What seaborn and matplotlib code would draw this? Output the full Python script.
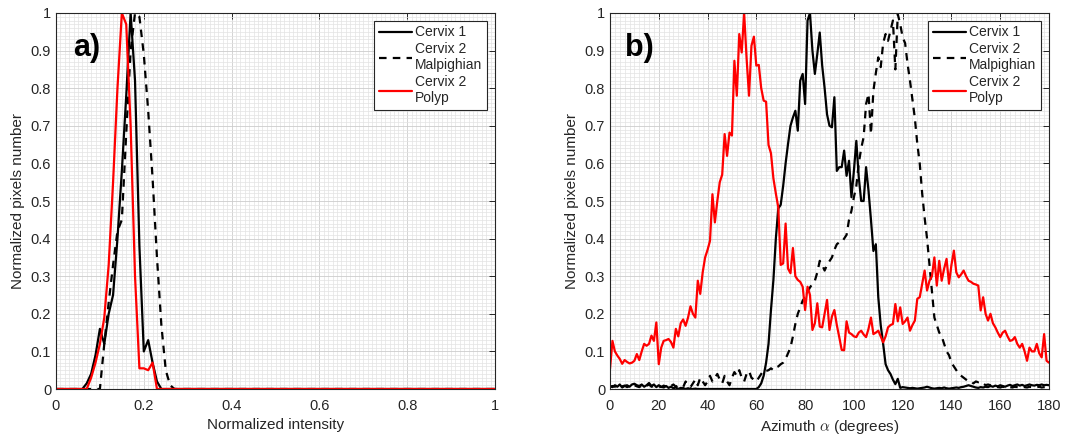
import numpy as np
import pandas as pd
import matplotlib
matplotlib.use("Agg")
import matplotlib.pyplot as plt
import seaborn as sns
from matplotlib.ticker import MultipleLocator, FuncFormatter

# ---------------- data ----------------
intensity = [round(0.01 * i, 2) for i in range(101)]
cervix1_int = [0.0] * 7 + [0.015, 0.04, 0.09, 0.16, 0.12, 0.20, 0.25, 0.40, 0.58, 0.78,
                           1.0, 0.82, 0.38, 0.10, 0.13, 0.07, 0.02] + [0.0] * 77
malpighian_int = [0.0] * 11 + [0.12, 0.23, 0.33, 0.42, 0.45, 0.68, 0.90, 1.0, 0.99, 0.89,
                               0.74, 0.56, 0.35, 0.17, 0.05, 0.01] + [0.0] * 74
polyp_int = [0.0] * 8 + [0.03, 0.07, 0.12, 0.19, 0.33, 0.55, 0.80, 1.0, 0.97, 0.70,
                         0.30, 0.055, 0.055, 0.05, 0.07] + [0.0] * 78

azimuth = list(range(181))
polyp_az = [
    0.053, 0.128, 0.100, 0.089, 0.080, 0.067, 0.077, 0.072, 0.068, 0.070,
    0.075, 0.093, 0.077, 0.100, 0.120, 0.115, 0.120, 0.142, 0.128, 0.177,
    0.066, 0.110, 0.128, 0.130, 0.133, 0.125, 0.110, 0.160, 0.140, 0.175,
    0.185, 0.168, 0.190, 0.220, 0.200, 0.190, 0.288, 0.253, 0.310, 0.350,
    0.370, 0.394, 0.518, 0.443, 0.500, 0.550, 0.570, 0.678, 0.620, 0.682,
    0.674, 0.873, 0.780, 0.944, 0.895, 1.000, 0.880, 0.780, 0.913, 0.937,
    0.860, 0.862, 0.800, 0.767, 0.764, 0.649, 0.627, 0.560, 0.520, 0.483,
    0.330, 0.334, 0.440, 0.320, 0.308, 0.375, 0.300, 0.290, 0.285, 0.272,
    0.210, 0.272, 0.250, 0.157, 0.175, 0.228, 0.166, 0.164, 0.200, 0.237,
    0.157, 0.193, 0.210, 0.170, 0.138, 0.104, 0.103, 0.180, 0.150, 0.146,
    0.140, 0.138, 0.150, 0.155, 0.145, 0.138, 0.160, 0.190, 0.146, 0.150,
    0.155, 0.140, 0.124, 0.140, 0.164, 0.170, 0.173, 0.226, 0.180, 0.217,
    0.173, 0.180, 0.190, 0.155, 0.170, 0.182, 0.240, 0.244, 0.280, 0.315,
    0.262, 0.288, 0.300, 0.350, 0.275, 0.341, 0.288, 0.320, 0.346, 0.280,
    0.330, 0.368, 0.310, 0.297, 0.305, 0.315, 0.300, 0.288, 0.285, 0.280,
    0.278, 0.275, 0.209, 0.244, 0.200, 0.182, 0.200, 0.175, 0.164, 0.150,
    0.138, 0.150, 0.155, 0.140, 0.128, 0.130, 0.138, 0.120, 0.110, 0.120,
    0.100, 0.075, 0.110, 0.100, 0.100, 0.120, 0.095, 0.084, 0.146, 0.075,
    0.070]
cervix1_az = [
    0.008, 0.005, 0.010, 0.006, 0.012, 0.004, 0.008, 0.010, 0.006, 0.012,
    0.014, 0.010, 0.008, 0.012, 0.006, 0.010, 0.016, 0.008, 0.012, 0.005,
    0.010, 0.006, 0.004, 0.008, 0.003, 0.006, 0.002, 0.004, 0.000, 0.003,
    0.002, 0.000, 0.002, 0.000, 0.000, 0.001, 0.000, 0.000, 0.000, 0.000,
    0.000, 0.000, 0.000, 0.000, 0.000, 0.000, 0.000, 0.000, 0.000, 0.000,
    0.000, 0.000, 0.000, 0.000, 0.000, 0.000, 0.000, 0.000, 0.000, 0.000,
    0.000, 0.005, 0.015, 0.035, 0.070, 0.120, 0.210, 0.290, 0.400, 0.480,
    0.490, 0.540, 0.600, 0.652, 0.700, 0.722, 0.740, 0.687, 0.820, 0.838,
    0.758, 0.980, 1.000, 0.900, 0.838, 0.891, 0.948, 0.860, 0.800, 0.730,
    0.700, 0.696, 0.776, 0.580, 0.590, 0.590, 0.634, 0.567, 0.607, 0.510,
    0.580, 0.660, 0.563, 0.500, 0.500, 0.590, 0.527, 0.450, 0.367, 0.385,
    0.244, 0.170, 0.120, 0.066, 0.050, 0.040, 0.025, 0.013, 0.027, 0.003,
    0.005, 0.004, 0.003, 0.002, 0.003, 0.002, 0.001, 0.002, 0.003, 0.004,
    0.006, 0.004, 0.002, 0.001, 0.002, 0.003, 0.002, 0.004, 0.002, 0.001,
    0.002, 0.003, 0.004, 0.003, 0.005, 0.006, 0.008, 0.010, 0.008, 0.006,
    0.004, 0.003, 0.005, 0.004, 0.006, 0.005, 0.008, 0.006, 0.009, 0.007,
    0.010, 0.008, 0.006, 0.009, 0.011, 0.008, 0.010, 0.012, 0.009, 0.011,
    0.008, 0.010, 0.012, 0.010, 0.009, 0.011, 0.010, 0.012, 0.010, 0.011,
    0.010]
malpighian_az = [
    0.005, 0.008, 0.006, 0.010, 0.004, 0.007, 0.009, 0.005, 0.008, 0.006,
    0.010, 0.007, 0.005, 0.009, 0.006, 0.008, 0.012, 0.006, 0.008, 0.010,
    0.007, 0.005, 0.009, 0.006, 0.010, 0.008, 0.012, 0.006, 0.010, 0.008,
    0.005, 0.020, 0.010, 0.005, 0.015, 0.025, 0.010, 0.030, 0.020, 0.010,
    0.020, 0.035, 0.020, 0.030, 0.040, 0.025, 0.015, 0.035, 0.020, 0.010,
    0.030, 0.045, 0.035, 0.050, 0.030, 0.020, 0.040, 0.048, 0.030, 0.025,
    0.020, 0.030, 0.040, 0.050, 0.048, 0.050, 0.055, 0.050, 0.057, 0.060,
    0.066, 0.070, 0.080, 0.095, 0.110, 0.140, 0.173, 0.200, 0.217, 0.235,
    0.244, 0.260, 0.270, 0.280, 0.288, 0.310, 0.341, 0.330, 0.315, 0.330,
    0.340, 0.350, 0.370, 0.385, 0.390, 0.390, 0.400, 0.410, 0.450, 0.474,
    0.510, 0.540, 0.600, 0.640, 0.670, 0.758, 0.785, 0.678, 0.793, 0.840,
    0.882, 0.856, 0.920, 0.944, 0.926, 0.953, 0.980, 0.850, 0.997, 0.970,
    0.935, 0.920, 0.865, 0.820, 0.770, 0.720, 0.652, 0.600, 0.520, 0.456,
    0.400, 0.330, 0.260, 0.190, 0.170, 0.150, 0.140, 0.120, 0.100, 0.090,
    0.070, 0.060, 0.050, 0.040, 0.035, 0.030, 0.025, 0.020, 0.020, 0.015,
    0.020, 0.018, 0.020, 0.015, 0.010, 0.012, 0.010, 0.008, 0.006, 0.005,
    0.004, 0.006, 0.005, 0.003, 0.005, 0.004, 0.006, 0.005, 0.004, 0.006,
    0.005, 0.004, 0.006, 0.005, 0.004, 0.005, 0.006, 0.004, 0.005, 0.006,
    0.005]

series_labels = ["Cervix 1", "Cervix 2\nMalpighian", "Cervix 2\nPolyp"]
xtick_left = [0, 0.2, 0.4, 0.6, 0.8, 1]
xtick_right = [0, 20, 40, 60, 80, 100, 120, 140, 160, 180]
ytick_vals = [0, 0.1, 0.2, 0.3, 0.4, 0.5, 0.6, 0.7, 0.8, 0.9, 1]

# ---------------- style ----------------
sns.set_theme(style="white")
plt.rcParams['font.family'] = ['Liberation Sans', 'DejaVu Sans']
plt.rcParams['mathtext.fontset'] = 'cm'

W, H = 1073, 436
fig = plt.figure(figsize=(W / 100, H / 100), dpi=100)
ax1 = fig.add_axes([56 / W, 1 - 389 / H, 439 / W, 376 / H])
ax2 = fig.add_axes([610 / W, 1 - 389 / H, 439 / W, 376 / H])

dark = '#262626'
styles = [dict(color='black', linestyle='-'),
          dict(color='black', linestyle=(0, (3.4, 2.8))),
          dict(color='#ff0000', linestyle='-')]


def fmt(v, pos):
    s = f"{v:.1f}" if abs(v - round(v)) > 1e-9 else f"{int(round(v))}"
    return s


def draw(ax, x, ys, xticks, xlim, xminor, xlabel, panel, px):
    for y, lab, st in zip(ys, series_labels, styles):
        sns.lineplot(x=x, y=y, ax=ax, label=lab, lw=1.6, errorbar=None, **st)
    ax.set_xlim(*xlim)
    ax.set_ylim(0, 1)
    ax.set_xticks(xticks)
    ax.set_yticks(ytick_vals)
    ax.xaxis.set_major_formatter(FuncFormatter(fmt))
    ax.yaxis.set_major_formatter(FuncFormatter(fmt))
    ax.xaxis.set_minor_locator(MultipleLocator(xminor))
    ax.yaxis.set_minor_locator(MultipleLocator(0.01))
    ax.grid(which='minor', color='#e3e3e3', lw=0.5, ls='-')
    ax.grid(which='major', color='#cccccc', lw=0.6, ls='-')
    ax.set_axisbelow(True)
    ax.tick_params(which='major', direction='in', length=4, width=0.7,
                   top=True, right=True, colors=dark, labelsize=10.5)
    ax.tick_params(axis='x', which='major', pad=7)
    ax.tick_params(axis='y', which='major', pad=3.5)
    ax.tick_params(which='minor', length=0, top=True, right=True)
    for sp in ax.spines.values():
        sp.set_color(dark)
        sp.set_linewidth(0.8)
    ax.set_xlabel(xlabel, fontsize=11, color=dark, labelpad=4)
    ax.set_ylabel("Normalized pixels number", fontsize=11, color=dark, labelpad=4)
    ax.text(px, 0.907, panel, transform=ax.transAxes, fontsize=22,
            fontweight='bold', ha='left', va='center', color='black')
    leg = ax.legend(loc='upper right', fontsize=10, frameon=True, fancybox=False,
                    framealpha=1, edgecolor=dark, borderaxespad=0.55,
                    handlelength=2.4, handletextpad=0.2, labelspacing=0.2,
                    borderpad=0.35)
    leg.get_frame().set_linewidth(0.8)
    for t in leg.get_texts():
        t.set_color(dark)


draw(ax1, intensity, [cervix1_int, malpighian_int, polyp_int], xtick_left, (0, 1),
     0.01, "Normalized intensity", "a)", 0.039)
draw(ax2, azimuth, [cervix1_az, malpighian_az, polyp_az], xtick_right, (0, 180),
     2, r"Azimuth $\alpha$ (degrees)", "b)", 0.034)

fig.savefig("out.png", dpi=100)
